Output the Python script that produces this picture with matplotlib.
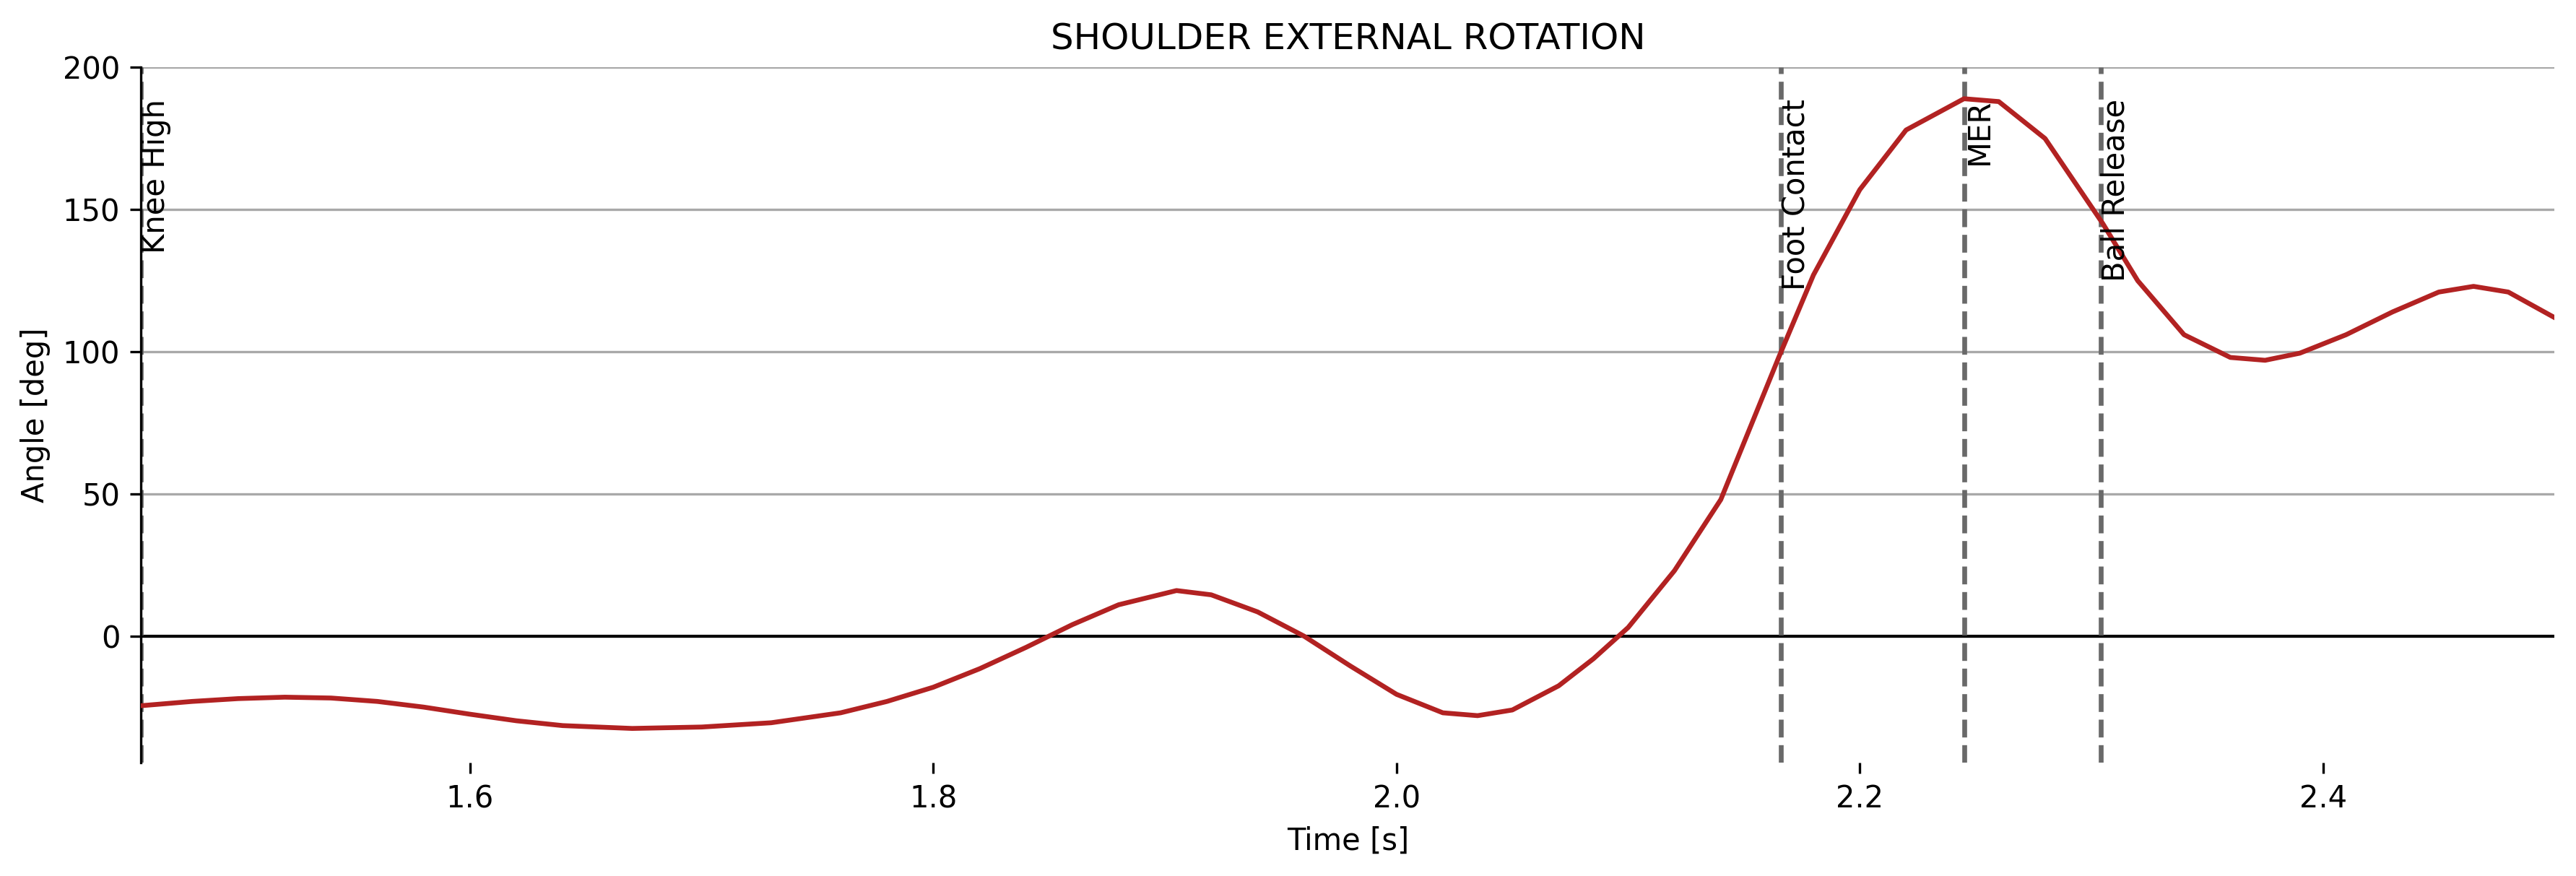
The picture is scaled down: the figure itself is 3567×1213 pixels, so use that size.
import numpy as np
import matplotlib.pyplot as plt

t = [1.458, 1.48, 1.50, 1.52, 1.54, 1.56, 1.58, 1.60, 1.62, 1.64, 1.67, 1.70, 1.73, 1.76,
     1.78, 1.80, 1.82, 1.84, 1.86, 1.88, 1.905, 1.92, 1.94, 1.96, 1.98, 2.00, 2.02, 2.035,
     2.05, 2.07, 2.085, 2.10, 2.12, 2.14, 2.165, 2.18, 2.20, 2.22, 2.245, 2.26, 2.28,
     2.305, 2.32, 2.34, 2.36, 2.375, 2.39, 2.41, 2.43, 2.45, 2.465, 2.48, 2.50]
angle = [-24.5, -23.0, -22.0, -21.5, -21.8, -23.0, -25.0, -27.5, -29.8, -31.5, -32.5, -32.0,
         -30.5, -27.0, -23.0, -18.0, -11.5, -4.0, 4.0, 11.0, 16.0, 14.5, 8.5, 0.0, -10.5,
         -20.5, -27.0, -28.0, -26.0, -17.5, -8.0, 3.0, 23.0, 48.0, 98.0, 127.0, 157.0, 178.0,
         189.0, 188.0, 175.0, 145.0, 125.0, 106.0, 98.0, 97.0, 99.5, 106.0, 114.0, 121.0,
         123.0, 121.0, 112.0]

events = ['Knee High', 'Foot Contact', 'MER', 'Ball Release']
event_t = [1.458, 2.166, 2.245, 2.304]

fig = plt.figure(figsize=(3567 / 300, 1213 / 300), dpi=300)
ax = fig.add_axes([0.0548, 0.1295, 0.9369, 0.7935])

ax.plot(t, angle, color='#B22222', lw=1.6, zorder=3)
ax.axhline(0, color='black', lw=1.0, zorder=2)
for name, x in zip(events, event_t):
    ax.axvline(x, color='dimgray', ls='--', lw=1.6, zorder=2)
    ax.text(x, 189, name, rotation=90, ha='left', va='top', fontsize=10)

ax.set_xlim(1.458, 2.5)
ax.set_ylim(-44.5, 200)
ax.set_yticks([0, 50, 100, 150, 200])
ax.set_xticks([1.6, 1.8, 2.0, 2.2, 2.4])
ax.yaxis.grid(True, color='darkgray', lw=0.8)
ax.set_axisbelow(True)
for s in ['top', 'right', 'bottom']:
    ax.spines[s].set_visible(False)
ax.tick_params(labelsize=10)
ax.set_xlabel('Time [s]', fontsize=10)
ax.set_ylabel('Angle [deg]', fontsize=10)
ax.set_title('SHOULDER EXTERNAL ROTATION', fontsize=12)

fig.savefig('out.png', dpi=300)
